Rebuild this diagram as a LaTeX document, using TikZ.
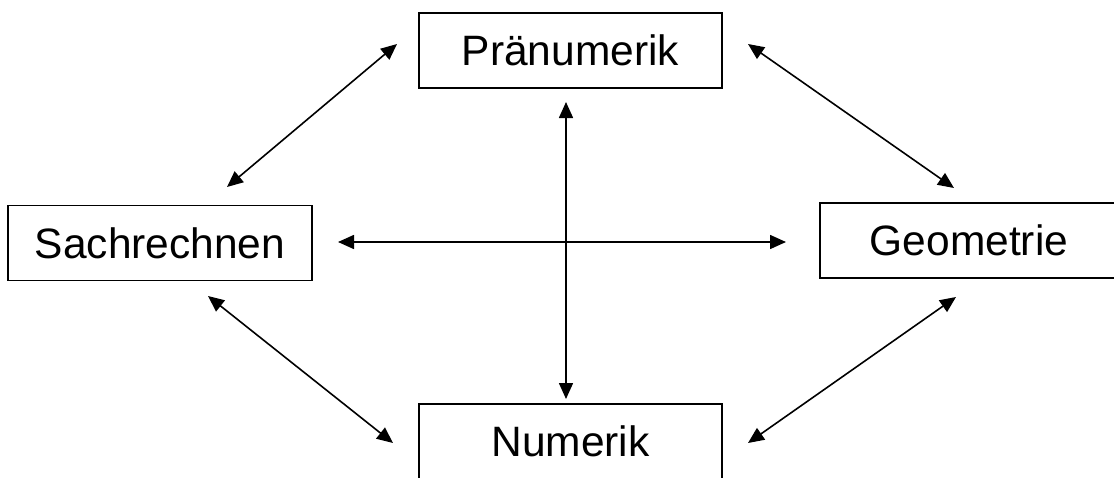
\documentclass[tikz,border=0pt]{standalone}
\usepackage{fontspec}
\setmainfont{Liberation Sans}
\usetikzlibrary{arrows.meta}
\begin{document}
\begin{tikzpicture}[x=1pt,y=-1pt,
  box/.style={draw,line width=1.6pt,minimum height=75pt,inner sep=0pt,
    font=\fontsize{42.5}{50}\selectfont},
  link/.style={line width=1.6pt,
    {Triangle[length=16pt,width=14pt]}-{Triangle[length=16pt,width=14pt]}}]
\useasboundingbox (0,0) rectangle (1114,477);
\clip (0,0) rectangle (1114,477);
\node[box,minimum width=303pt] (pre) at (570.5,50.5) {Pränumerik};
\node[box,minimum width=304pt] (sach) at (160,243) {Sachrechnen};
\node[box,minimum width=298pt] (geo) at (969,240.5) {Geometrie};
\node[box,minimum width=303pt] (num) at (570.5,441.5) {Numerik};
% connector end points
\coordinate (tlA) at (227,187);
\coordinate (tlB) at (397,44);
\coordinate (trA) at (748,44);
\coordinate (trB) at (954,188);
\coordinate (hA) at (338,242);
\coordinate (hB) at (786,242);
\coordinate (vA) at (566,102);
\coordinate (vB) at (566,399);
\coordinate (blA) at (208,296);
\coordinate (blB) at (393,443);
\coordinate (brA) at (748,443);
\coordinate (brB) at (956,297);
\draw[link] (tlA) -- (tlB);
\draw[link] (trA) -- (trB);
\draw[link] (hA) -- (hB);
\draw[link] (vA) -- (vB);
\draw[link] (blA) -- (blB);
\draw[link] (brA) -- (brB);
\end{tikzpicture}
\end{document}
